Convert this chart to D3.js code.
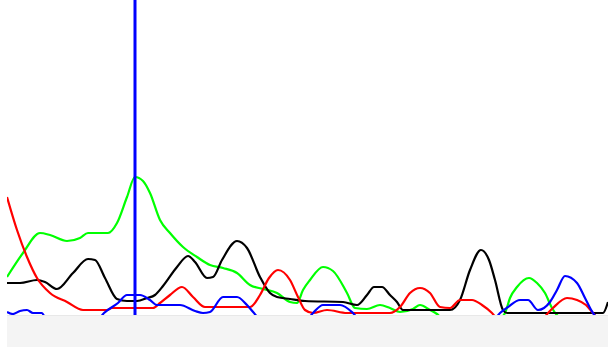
<!DOCTYPE html>
<html><head><meta charset="utf-8">
<script src="https://cdn.jsdelivr.net/npm/d3@7"></script>
<style>html,body{margin:0;padding:0;background:#fff;overflow:hidden}</style>
</head><body>
<script>
// [scan, intensity] pairs per base trace
const traceG = [[0,40],[16,64],[33,84],[43,82],[60,76],[73,79],[81,84],[101,84],[110,94],[120,120],[128,140],[136,136],[143,124],[153,97],[163,84],[176,70],[190,60],[203,52],[216,49],[230,44],[243,32],[256,28],[270,24],[283,15],[290,14],[296,27],[303,37],[316,50],[326,46],[340,24],[348,9],[360,8],[373,12],[383,9],[393,5],[406,8],[413,12],[423,7],[430,3],[434,0],[494,0],[498,4],[503,19],[510,30],[522,39],[530,34],[538,24],[545,9],[549,3],[553,0],[601,0]];
const traceT = [[0,120],[10,87],[20,60],[30,39],[43,24],[60,15],[76,7],[100,7],[105,9],[146,9],[153,14],[163,22],[175,30],[186,20],[198,10],[243,10],[253,22],[262,39],[271,47],[283,37],[291,20],[298,7],[306,4],[320,7],[340,4],[383,4],[393,10],[403,24],[413,29],[423,24],[433,10],[443,9],[453,17],[465,17],[475,12],[485,4],[489,0],[537,0],[541,4],[546,9],[560,19],[570,17],[579,12],[586,4],[590,0],[601,0]];
const traceC = [[0,5],[6,3],[13,6],[20,7],[26,4],[35,4],[38,0],[93,0],[97,4],[111,14],[120,22],[133,22],[143,17],[150,12],[173,12],[188,6],[196,4],[203,5],[216,20],[230,20],[240,12],[247,4],[251,0],[302,0],[306,4],[316,12],[333,12],[346,4],[350,0],[489,0],[493,4],[501,10],[513,17],[521,17],[531,7],[543,15],[550,27],[558,41],[570,34],[578,19],[586,4],[590,0],[601,0]];
const traceK = [[0,34],[13,34],[30,37],[38,35],[50,28],[66,44],[81,58],[88,57],[98,39],[110,18],[120,16],[130,16],[140,19],[148,22],[156,31],[170,50],[181,61],[188,55],[200,39],[206,40],[215,57],[230,76],[240,69],[253,40],[263,24],[270,20],[283,18],[298,16],[336,15],[350,12],[360,22],[367,30],[375,30],[383,22],[390,15],[396,7],[443,7],[453,17],[463,47],[474,67],[482,57],[488,37],[496,7],[500,4],[596,4],[601,15]];
const cursorScan = [128];

const W = 608, H = 347;
const svg = d3.select("body").append("svg").attr("width", W).attr("height", H);
const x = d3.scaleLinear().domain([0, 601]).range([7, 608]);
const y = d3.scaleLinear().domain([0, 317]).range([317, 0]);

svg.append("defs").append("clipPath").attr("id","clip")
  .append("rect").attr("x",7).attr("y",0).attr("width",601).attr("height",315);

const line = d3.line().x(d=>x(d[0])).y(d=>y(d[1])).curve(d3.curveMonotoneX);
const g = svg.append("g").attr("clip-path","url(#clip)");
[[traceG,"#00ff00"],[traceK,"#000000"],[traceT,"#ff0000"],[traceC,"#0000ff"]].forEach(([d,c])=>{
  g.append("path").datum(d).attr("d",line).attr("fill","none").attr("stroke",c).attr("stroke-width",2.2).attr("stroke-linejoin","round");
});

// gray panel below the traces
svg.append("rect").attr("x",7).attr("y",315).attr("width",601).attr("height",32).attr("fill","#f4f4f4");
svg.append("line").attr("x1",7).attr("x2",608).attr("y1",315.5).attr("y2",315.5).attr("stroke","#e8e8e8").attr("stroke-width",1);

// cursor
g.selectAll("line.cursor").data(cursorScan).enter().append("line").attr("class","cursor")
  .attr("x1",d=>x(d)).attr("x2",d=>x(d)).attr("y1",0).attr("y2",315)
  .attr("stroke","#0000ff").attr("stroke-width",3);
</script>
</body></html>
